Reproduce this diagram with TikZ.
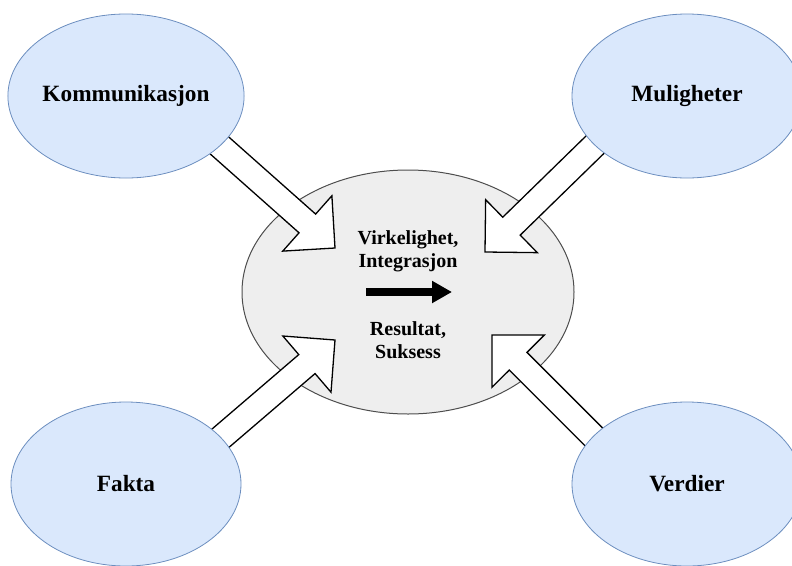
\documentclass[tikz,border=0pt]{standalone}
\usepackage{fontspec}
\setmainfont{Liberation Serif}
\usetikzlibrary{shapes.geometric,calc,arrows.meta}
\pgfdeclarelayer{bg}
\pgfdeclarelayer{mid}
\pgfsetlayers{bg,mid,main}
\definecolor{blfill}{HTML}{DAE8FC}
\definecolor{bldraw}{HTML}{6C8EBF}
\definecolor{grfill}{HTML}{EEEEEE}
\definecolor{grdraw}{HTML}{4D4D4D}
\tikzset{
 outer/.style={ellipse, draw=bldraw, fill=blfill, line width=0.8pt, minimum width=230pt, minimum height=164pt, inner sep=0pt, font=\fontsize{23.3}{26}\selectfont\bfseries},
 hub/.style={ellipse, draw=grdraw, fill=grfill, line width=1pt, minimum width=332pt, minimum height=244pt, inner sep=0pt},
 hubtext/.style={font=\fontsize{20}{23}\selectfont\bfseries, align=center, inner sep=0pt},
 blockarrow/.style={draw=black, fill=white, line width=1.3pt, line join=miter},
 flowarrow/.style={line width=7.3pt, -{Triangle[length=20pt,width=21pt]}},
}
\newcommand\blockarr[3]{%
 \coordinate (#3b) at ($(#1)!-20pt!(#2)$);
 \coordinate (#3h) at ($(#2)!37pt!(#1)$);
 \draw[blockarrow] ($(#3b)!12.5pt!90:(#2)$) -- ($(#3h)!12.5pt!90:(#2)$) -- ($(#3h)!37pt!90:(#2)$) -- (#2) -- ($(#3h)!37pt!-90:(#2)$) -- ($(#3h)!12.5pt!-90:(#2)$) -- ($(#3b)!12.5pt!-90:(#2)$) -- cycle;
}
\begin{document}
\begin{tikzpicture}[x=1pt,y=-1pt]
\useasboundingbox (0,0) rectangle (792,565);
\begin{pgfonlayer}{bg}
\node[hub] (C) at (408,292) {};
\end{pgfonlayer}
\node[outer] (K) at (126,96) {Kommunikasjon};
\node[outer] (M) at (687,96) {Muligheter};
\node[outer] (F) at (126,484) {Fakta};
\node[outer] (V) at (687,484) {Verdier};
\node[hubtext] (t1) at (408,251) {Virkelighet,\\Integrasjon};
\node[hubtext] (t2) at (408,340) {Resultat,\\Suksess};
\coordinate (a1) at (366,292);
\coordinate (a2) at (452,292);
\draw[flowarrow] (a1) -- (a2);
\coordinate (tK) at (335,248);
\coordinate (tM) at (485,252);
\coordinate (tF) at (335,340);
\coordinate (tV) at (492,335);
\begin{pgfonlayer}{mid}
\blockarr{K.-28}{tK}{aK}
\blockarr{M.-152.5}{tM}{aM}
\blockarr{F.26.6}{tF}{aF}
\blockarr{V.153.4}{tV}{aV}
\end{pgfonlayer}
\end{tikzpicture}
\end{document}
